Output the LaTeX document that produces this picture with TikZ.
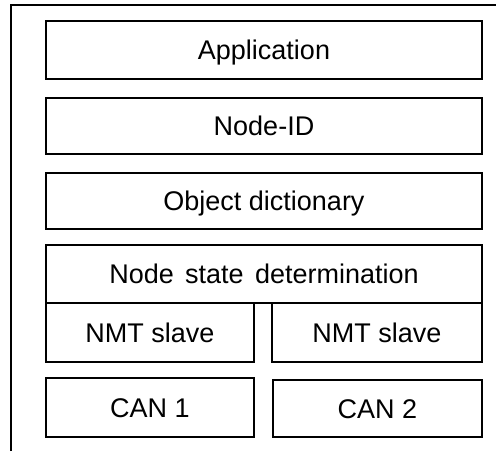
\documentclass[tikz,border=0pt]{standalone}
\usepackage{fontspec}
\setmainfont{Liberation Sans}
\newcommand{\stackfont}{\fontsize{27}{32}\selectfont}
\newcommand{\widewords}{\spaceskip=0.42em\relax}
\begin{document}
\begin{tikzpicture}[x=1pt,y=-1pt,
  layer/.style={draw, line width=1.2pt, inner sep=0pt, font=\stackfont,
    text height=19pt, text depth=0pt}]
\useasboundingbox (0,0) rectangle (496,451);
% open frame of the device
\coordinate (fb) at (11,451);
\coordinate (fc) at (11,5);
\coordinate (fr) at (496,5);
\draw[line width=1.3pt] (fb) -- (fc) -- (fr);
% protocol stack
\node[layer, minimum width=436pt, minimum height=58pt] (app) at (264,50) {Application};
\node[layer, minimum width=436pt, minimum height=56pt] (nid) at (264,126) {Node-ID};
\node[layer, minimum width=436pt, minimum height=56pt] (obj) at (264,201) {Object dictionary};
\node[layer, minimum width=436pt, minimum height=58pt] (nsd) at (264,274) {\widewords Node state determination};
\node[layer, minimum width=208pt, minimum height=59pt] (nmt1) at (150,332.5) {NMT slave};
\node[layer, minimum width=210pt, minimum height=59pt] (nmt2) at (377,332.5) {NMT slave};
\node[layer, minimum width=208pt, minimum height=59pt] (can1) at (150,407.5) {CAN 1};
\node[layer, minimum width=209pt, minimum height=57pt] (can2) at (377.5,408.5) {CAN 2};
\end{tikzpicture}
\end{document}
